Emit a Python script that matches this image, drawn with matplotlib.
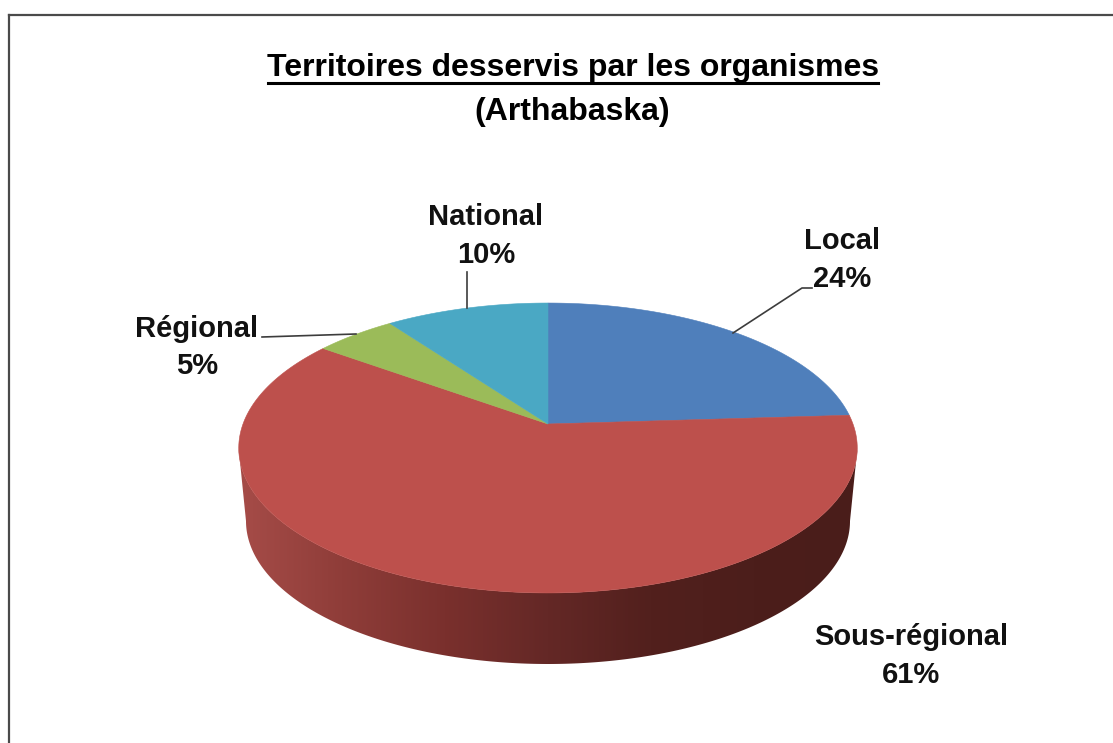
import matplotlib
matplotlib.use("Agg")
import matplotlib.pyplot as plt
import numpy as np
from matplotlib.colors import LinearSegmentedColormap
from matplotlib.patches import Polygon

plt.rcParams['font.family'] = ['Liberation Sans']

categories = ["Local", "Sous-régional", "Régional", "National"]
values = [24, 61, 5, 10]
colors = ["#4f7fbb", "#bd504c", "#9bbb59", "#4aa8c4"]
title = "Territoires desservis par les organismes"
subtitle = "(Arthabaska)"

# side wall shading, left to right
side_colors = ["#a64c48", "#8f3d39", "#7a302d", "#642826", "#52201d", "#4c1e1b", "#4a1d1a"]

# pie geometry in pixels (perspective tilt)
cx, cy = 548, 424
a, b, k = 305, 141, 0.1655


def project(frac):
    # frac = share of the turn, clockwise from the top
    ang = 2 * np.pi * np.asarray(frac)
    u, v = np.sin(ang), np.cos(ang)
    return cx + a * u / (1 + k * v), cy - b * v / (1 + k * v)


fig = plt.figure(figsize=(11.13, 7.43), dpi=100)
ax = fig.add_axes([0, 0, 1, 1])
ax.set_xlim(0, 1113)
ax.set_ylim(743, 0)
ax.axis("off")

# chart frame, runs off the right and bottom of the picture
ax.plot([8.5, 8.5], [743, 14.5], color="#4a4a4a", lw=1.6)
ax.plot([8.5, 1113], [14.5, 14.5], color="#4a4a4a", lw=1.6)

# side wall
t = np.linspace(0, 1, 721)
xs, ys = project(t)
front = ys > 448
order = np.argsort(xs[front])
top_x, top_y = xs[front][order], ys[front][order]
th = np.linspace(np.pi, 0, 300)
bot_x = 548 + 302 * np.cos(th)
bot_y = 521 + 143 * np.sin(th)
wall = np.column_stack([np.r_[top_x, bot_x[::-1]], np.r_[top_y, bot_y[::-1]]])
wall_patch = Polygon(wall, closed=True, fc="none", ec="none")
ax.add_patch(wall_patch)
cmap = LinearSegmentedColormap.from_list("side", side_colors)
im = ax.imshow(np.linspace(0, 1, 256).reshape(1, -1), cmap=cmap, aspect="auto",
               extent=[238, 858, 670, 440], zorder=2)
im.set_clip_path(wall_patch)
ax.set_xlim(0, 1113)
ax.set_ylim(743, 0)

# top face
start = 0.0
total = sum(values)
for val, col in zip(values, colors):
    tt = np.linspace(start, start + val / total, 200)
    px, py = project(tt)
    pts = np.column_stack([np.r_[cx, px], np.r_[cy, py]])
    ax.add_patch(Polygon(pts, closed=True, fc=col, ec=col, lw=0.4, zorder=3))
    start += val / total

# leader lines
ax.plot([733, 802, 812], [333, 288, 288], color="#3c3c3c", lw=1.2, zorder=4)
ax.plot([262, 356], [337, 334], color="#3c3c3c", lw=1.2, zorder=4)
ax.plot([467, 467], [272, 308], color="#3c3c3c", lw=1.2, zorder=4)

# labels
label_pos = [(842, 260), (911, 656), (197, 347.5), (486, 236)]
for name, val, (lx, ly) in zip(categories, values, label_pos):
    ax.text(lx, ly, f"{name}\n{val}%", ha="center", va="center", fontsize=21,
            fontweight="bold", color="#111111", linespacing=1.42, zorder=5)

ax.text(573, 76, title, ha="center", va="baseline", fontsize=23, fontweight="bold", color="black")
ax.plot([268, 878], [83, 83], color="black", lw=2.2)
ax.text(572, 120, subtitle, ha="center", va="baseline", fontsize=23, fontweight="bold", color="black")

fig.savefig("out.png", dpi=100, facecolor="white")
